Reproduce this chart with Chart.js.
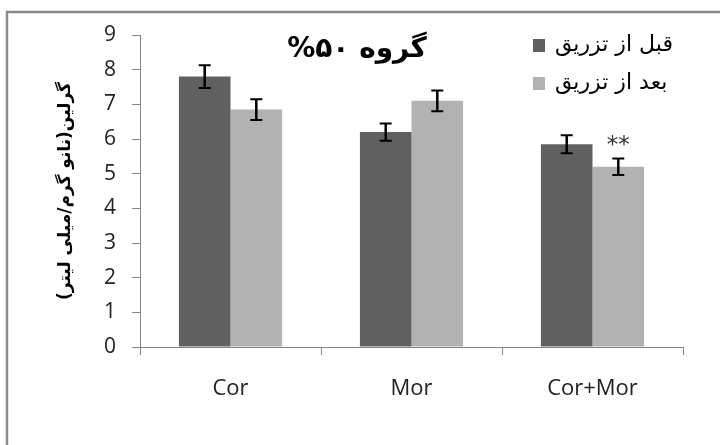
<!DOCTYPE html>
<html><head><meta charset="utf-8">
<script src="https://cdn.jsdelivr.net/npm/chart.js@4.4.1/dist/chart.umd.min.js"></script>
<style>html,body{margin:0;padding:0;background:#fff}#wrap{width:720px;height:445px;position:relative}</style>
</head><body><div id="wrap"><canvas id="c"></canvas></div>
<script>
const categories = ['Cor', 'Mor', 'Cor+Mor'];
const seriesLabels = ['قبل از تزریق', 'بعد از تزریق'];
const beforeValues = [7.8, 6.2, 5.85];
const afterValues = [6.85, 7.1, 5.2];
const beforeErrors = [0.33, 0.25, 0.26];
const afterErrors = [0.3, 0.3, 0.24];
const beforeMarks = ['', '', ''];
const afterMarks = ['', '', '**'];
const yTickLabels = ['0', '1', '2', '3', '4', '5', '6', '7', '8', '9'];
const titleText = 'گروه ۵۰%';
const yAxisTitle = 'گرلین(نانو گرم/میلی لیتر)';
const seriesColors = ['#606060', '#b2b2b2'];

const RLE = '\u202B', PDF = '\u202C';

const frame = {
  id: 'frame',
  beforeDraw(chart) {
    const ctx = chart.ctx;
    ctx.save();
    ctx.fillStyle = '#fff';
    ctx.fillRect(0, 0, chart.width, chart.height);
    ctx.strokeStyle = '#8a8a8a';
    ctx.lineWidth = 2.5;
    ctx.beginPath();
    ctx.moveTo(7, chart.height + 5);
    ctx.lineTo(7, 12);
    ctx.lineTo(chart.width + 5, 12);
    ctx.stroke();
    ctx.restore();
  }
};

const errorBars = {
  id: 'errorBars',
  afterDatasetsDraw(chart) {
    const ctx = chart.ctx;
    const ys = chart.scales.y;
    chart.data.datasets.forEach((ds, di) => {
      const meta = chart.getDatasetMeta(di);
      meta.data.forEach((bar, i) => {
        const v = ds.data[i], e = ds.errors[i];
        const x = bar.x;
        const yt = ys.getPixelForValue(v + e), yb = ys.getPixelForValue(v - e);
        ctx.save();
        ctx.strokeStyle = '#000';
        ctx.lineWidth = 2.5;
        ctx.beginPath();
        ctx.moveTo(x, yt); ctx.lineTo(x, yb);
        ctx.stroke();
        ctx.lineWidth = 2;
        ctx.beginPath();
        ctx.moveTo(x - 6, yt); ctx.lineTo(x + 6, yt);
        ctx.moveTo(x - 6, yb); ctx.lineTo(x + 6, yb);
        ctx.stroke();
        const m = ds.marks && ds.marks[i];
        if (m) {
          ctx.fillStyle = '#333';
          ctx.font = '23px "DejaVu Sans"';
          ctx.textAlign = 'center';
          ctx.textBaseline = 'middle';
          ctx.fillText(m, x, yt - 12);
        }
        ctx.restore();
      });
    });
  }
};

const overlay = {
  id: 'overlay',
  afterDraw(chart) {
    const ctx = chart.ctx;
    ctx.save();
    ctx.direction = 'rtl';
    ctx.fillStyle = '#000';
    ctx.font = 'bold 28px "DejaVu Sans"';
    ctx.textAlign = 'center';
    ctx.textBaseline = 'middle';
    ctx.fillText(titleText, 357, 50);
    // legend
    ctx.font = '22px "DejaVu Sans"';
    ctx.textAlign = 'left';
    const rows = [46, 84];
    chart.data.datasets.forEach((ds, i) => {
      ctx.fillStyle = ds.backgroundColor;
      ctx.fillRect(533, rows[i] - 7, 12, 13);
      ctx.fillStyle = '#000';
      ctx.fillText(ds.label, 555, rows[i] - 1);
    });
    ctx.restore();
  }
};

new Chart(document.getElementById('c'), {
  type: 'bar',
  data: {
    labels: categories,
    datasets: [
      { label: seriesLabels[0], data: beforeValues, errors: beforeErrors, marks: beforeMarks, backgroundColor: seriesColors[0], borderWidth: 0, categoryPercentage: 0.57, barPercentage: 1.0 },
      { label: seriesLabels[1], data: afterValues, errors: afterErrors, marks: afterMarks, backgroundColor: seriesColors[1], borderWidth: 0, categoryPercentage: 0.57, barPercentage: 1.0 }
    ]
  },
  options: {
    responsive: true,
    maintainAspectRatio: false,
    animation: false,
    devicePixelRatio: 1,
    layout: { padding: { left: 7, right: 37, top: 35, bottom: 0 } },
    plugins: { legend: { display: false }, tooltip: { enabled: false }, title: { display: false } },
    scales: {
      x: {
        offset: true,
        grid: { offset: true, drawOnChartArea: false, drawTicks: true, tickLength: 8, color: '#868686' },
        border: { color: '#868686', width: 1 },
        ticks: { color: '#222', font: { family: '"Open Sans"', size: 22 }, padding: 21, maxRotation: 0 },
        afterFit(s) { s.height = 98; }
      },
      y: {
        min: 0, max: 9,
        ticks: { stepSize: 1, color: '#222', font: { family: '"Open Sans"', size: 21 }, padding: 16,
          callback: (v) => yTickLabels[v] !== undefined ? yTickLabels[v] : '' },
        grid: { drawOnChartArea: false, drawTicks: true, tickLength: 8, color: '#868686' },
        border: { color: '#868686', width: 1 },
        title: { display: true, text: RLE + yAxisTitle + PDF, color: '#000',
          font: { family: '"DejaVu Sans"', size: 17, weight: 'bold' }, padding: { top: 48, bottom: 0 } },
        afterFit(s) { s.width = 133; }
      }
    }
  },
  plugins: [frame, errorBars, overlay]
});
</script>
</body></html>
